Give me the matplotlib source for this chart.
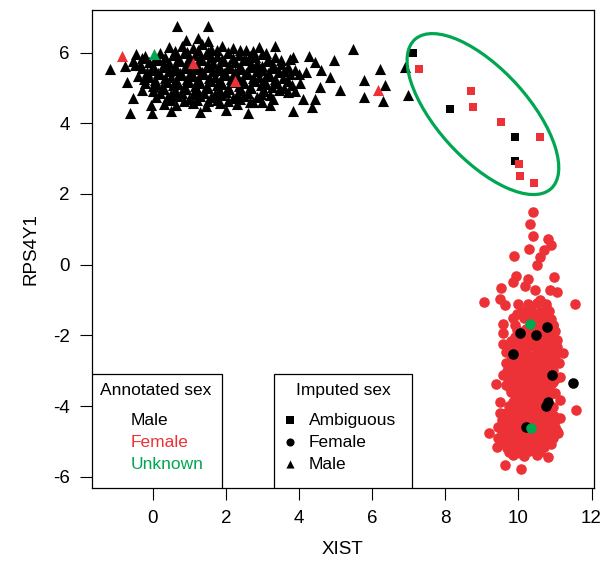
import numpy as np
import matplotlib
matplotlib.use("Agg")
import matplotlib.pyplot as plt
from matplotlib.patches import Ellipse, Rectangle

plt.rcParams['font.family'] = ['Liberation Sans', 'DejaVu Sans']
plt.rcParams['axes.unicode_minus'] = False

RED = '#ed3237'
GREEN = '#00a650'
BLACK = '#000000'

# imputed sex = Male (triangles), annotated male
tri_black_x = [
    0.45, 0.8, 1.1, 1.35, 1.6, 1.9, 2.2, 2.55, 2.9,
    -0.45, -0.2, 0.2, 0.55, 0.85, 1.15, 1.45, 1.75, 2.05, 2.35, 2.65, 3.0, 3.35,
    -0.55, -0.1, 0.15, 0.45, 0.75, 1.05, 1.35, 1.65, 1.95, 2.25, 2.55, 2.85, 3.15, 3.5,
    -0.3, 0.0, 0.3, 0.6, 0.9, 1.2, 1.5, 1.8, 2.1, 2.4, 2.7, 3.0, 3.3, 3.6, 3.9,
    -0.4, -0.1, 0.2, 0.5, 0.8, 1.1, 1.4, 1.7, 2.0, 2.3, 2.6, 2.9, 3.2, 3.55, 4.0,
    -0.2, 0.1, 0.4, 0.7, 1.0, 1.3, 1.6, 1.9, 2.2, 2.5, 2.8, 3.1, 3.4, 3.8,
    -0.3, 0.0, 0.3, 0.6, 0.9, 1.2, 1.5, 1.8, 2.1, 2.4, 2.7, 3.05, 3.45, 3.7,
    0.1, 0.4, 0.7, 1.0, 1.3, 1.6, 1.9, 2.2, 2.5, 2.85, 3.3,
    0.3, 0.65, 1.1, 1.45, 1.85, 2.3, 2.75, 3.2,
    0.5, 1.3, 2.0, 2.6,
    0.6, 0.95, 1.25, 1.5, 1.75, 2.05, 2.4, 2.75, 3.1,
    -0.3, 0.05, 0.35, 0.7, 1.0, 1.3, 1.6, 1.9, 2.2, 2.5, 2.8, 3.15, 3.5,
    -0.35, 0.0, 0.3, 0.6, 0.9, 1.2, 1.5, 1.8, 2.1, 2.4, 2.7, 3.0, 3.3, 3.7,
    -0.15, 0.15, 0.45, 0.75, 1.05, 1.35, 1.65, 1.95, 2.25, 2.55, 2.85, 3.15, 3.45, 3.75,
    -0.25, 0.05, 0.35, 0.65, 0.95, 1.25, 1.55, 1.85, 2.15, 2.45, 2.75, 3.05, 3.35, 3.7,
    0.0, 0.25, 0.55, 0.85, 1.15, 1.45, 1.75, 2.05, 2.35, 2.65, 2.95, 3.25, 3.6,
    0.2, 0.5, 0.8, 1.1, 1.4, 1.7, 2.0, 2.3, 2.6, 2.95, 3.2,
    0.5, 0.85, 1.2, 1.5, 1.75, 2.05, 2.4, 2.65, 3.0,
    3.34, 3.75, 3.84, 4.03, 4.28, 4.44, 4.58, 4.85, 4.97, 5.12, 4.35, 3.84, 4.44,
    4.2, 4.6, 3.9, 4.1,
    5.49, 6.22, 5.78, 6.35, 5.78, 6.29, 6.90, 6.99,
    -1.17, -0.76, -0.48, -0.71, -0.55, -0.62, -0.05, -0.03, 0.66, 1.52,
    0.9, 1.25, 1.5,
]
tri_black_y = [
    6.15, 6.2, 6.12, 6.25, 6.1, 6.18, 6.13, 6.08, 6.16,
    5.95, 5.9, 5.98, 5.93, 6.0, 5.92, 5.97, 5.9, 5.99, 5.94, 5.91, 5.96, 5.88,
    5.75, 5.72, 5.78, 5.7, 5.77, 5.74, 5.8, 5.71, 5.76, 5.73, 5.79, 5.7, 5.75, 5.68,
    5.55, 5.52, 5.58, 5.5, 5.57, 5.54, 5.6, 5.51, 5.56, 5.53, 5.59, 5.5, 5.55, 5.48, 5.52,
    5.35, 5.32, 5.38, 5.3, 5.37, 5.34, 5.4, 5.31, 5.36, 5.33, 5.39, 5.3, 5.35, 5.28, 5.4,
    5.15, 5.12, 5.18, 5.1, 5.17, 5.14, 5.2, 5.11, 5.16, 5.13, 5.19, 5.1, 5.15, 5.08,
    4.95, 4.92, 4.98, 4.9, 4.97, 4.94, 5.0, 4.91, 4.96, 4.93, 4.99, 4.9, 4.95, 4.88,
    4.75, 4.72, 4.78, 4.7, 4.77, 4.74, 4.8, 4.71, 4.76, 4.73, 4.7,
    4.55, 4.52, 4.58, 4.5, 4.57, 4.54, 4.6, 4.51,
    4.35, 4.32, 4.38, 4.3,
    6.05, 6.02, 6.08, 6.03, 6.06, 6.01, 6.07, 6.04, 6.0,
    5.85, 5.83, 5.87, 5.82, 5.86, 5.84, 5.88, 5.81, 5.85, 5.83, 5.87, 5.82, 5.8,
    5.65, 5.63, 5.67, 5.62, 5.66, 5.64, 5.68, 5.61, 5.65, 5.63, 5.67, 5.62, 5.66, 5.6,
    5.45, 5.43, 5.47, 5.42, 5.46, 5.44, 5.48, 5.41, 5.45, 5.43, 5.47, 5.42, 5.46, 5.4,
    5.25, 5.23, 5.27, 5.22, 5.26, 5.24, 5.28, 5.21, 5.25, 5.23, 5.27, 5.22, 5.26, 5.2,
    5.05, 5.03, 5.07, 5.02, 5.06, 5.04, 5.08, 5.01, 5.05, 5.03, 5.07, 5.02, 5.0,
    4.85, 4.83, 4.87, 4.82, 4.86, 4.84, 4.88, 4.81, 4.85, 4.83, 4.8,
    4.65, 4.63, 4.67, 4.62, 4.66, 4.64, 4.68, 4.61, 4.6,
    6.19, 5.81, 5.88, 5.13, 5.90, 5.74, 5.03, 5.32, 5.79, 4.94, 4.47, 4.36, 4.68,
    5.45, 5.5, 4.9, 4.7,
    6.09, 5.53, 5.22, 5.08, 4.74, 4.64, 5.58, 4.80,
    5.53, 5.62, 5.65, 5.18, 4.71, 4.29, 4.52, 4.28, 6.75, 6.75,
    6.35, 6.4, 6.33,
]
tri_red_x = [-0.83, 1.11, 2.25, 6.16]
tri_red_y = [5.91, 5.70, 5.20, 4.94]
tri_green_x = [0.04]
tri_green_y = [5.96]

# imputed sex = Ambiguous (squares)
sq_black_x = [7.13, 8.14, 9.91, 9.90]
sq_black_y = [5.98, 4.40, 3.60, 2.93]
sq_red_x = [7.29, 8.70, 8.76, 9.52, 10.60, 10.01, 10.05, 10.42]
sq_red_y = [5.54, 4.90, 4.46, 4.04, 3.60, 2.85, 2.50, 2.30]

# imputed sex = Female (circles)
circ_red_x = [
    10.39, 10.32, 10.39, 10.82, 10.88, 10.29, 9.88, 10.70, 10.59, 10.50, 9.93, 10.27,
    10.97, 9.86, 9.52, 10.18, 10.45, 10.86, 11.06, 9.06, 9.50, 9.63, 11.55, 10.59, 10.75,
    9.59, 9.59, 9.57, 9.66, 9.65, 9.57, 9.39, 9.50, 9.50, 9.20, 9.41, 9.63, 10.06, 10.82,
    11.57, 11.23, 11.14, 11.14, 11.14, 11.08, 10.95, 11.05,
    10.1, 10.35, 10.6, 10.85,
    9.85, 10.15, 10.4, 10.65, 10.9,
    9.9, 10.5, 10.7, 10.95,
    10.3, 10.6, 10.9,
    9.8, 10.05, 10.3, 10.55, 10.8, 11.0,
    9.75, 10.0, 10.25, 10.5, 10.75, 11.05,
    9.85, 10.1, 10.35, 10.6, 10.85,
    9.9, 10.15, 10.4, 10.65, 10.9, 11.1,
    9.7, 9.95, 10.2, 10.45, 10.7, 10.95,
    9.8, 10.05, 10.3, 10.55, 10.8, 11.0,
    9.65, 9.9, 10.15, 10.4, 10.65, 10.9,
    9.8, 10.05, 10.3, 10.55, 10.8, 11.0,
    10.0, 10.25, 10.5, 10.7,
    9.75, 10.0, 10.25, 10.5, 10.95,
    9.65, 9.9, 10.15, 10.4, 10.65, 10.9,
    9.55, 9.8, 10.05, 10.3, 10.55, 10.8, 11.0,
    9.45, 9.7, 9.95, 10.2, 10.5, 10.75, 11.0,
    9.6, 9.85, 10.1, 10.35, 10.6, 10.85,
    9.55, 9.8, 10.05, 10.3, 10.55, 10.8,
    9.7, 9.95, 10.2, 10.45, 10.7,
    9.85, 10.15, 10.5,
    10.0, 10.25, 10.5, 10.75,
    9.95, 10.25, 10.5, 10.78,
    9.95, 10.2, 10.45, 10.75, 11.0,
    9.9, 10.18, 10.42, 10.68, 10.92,
    9.9, 10.12, 10.38, 10.62, 10.88,
    9.95, 10.22, 10.48, 10.72, 10.98,
    9.8, 10.02, 10.28, 10.52, 10.78, 11.0,
    9.82, 10.08, 10.32, 10.58, 10.82,
    9.9, 10.12, 10.38, 10.62, 10.88,
    9.75, 10.0, 10.22, 10.48, 10.72, 10.95,
    9.78, 10.02, 10.28, 10.52, 10.78,
    9.9, 10.12, 10.38, 10.62, 10.88,
    9.85, 10.12, 10.38, 10.62,
    9.82, 10.08, 10.32, 10.58, 10.82,
    9.72, 10.0, 10.25, 10.5, 10.75, 10.98,
    9.65, 9.92, 10.18, 10.42, 10.68, 10.92,
    9.55, 9.8, 10.05, 10.3, 10.55, 10.8, 11.05,
    9.45, 9.7, 9.95, 10.22, 10.48, 10.72, 10.95,
    9.65, 9.9, 10.15, 10.4, 10.65, 10.9,
    9.75, 10.05, 10.3, 10.6,
]
circ_red_y = [
    1.50, 1.14, 0.82, 0.72, 0.56, 0.43, 0.25, 0.41, 0.22, 0.00, -0.32, -0.42,
    -0.36, -0.48, -0.67, -0.60, -0.72, -0.72, -0.77, -1.07, -0.98, -1.14, -1.11, -1.00, -1.19,
    -1.68, -1.93, -2.25, -2.46, -2.79, -3.12, -3.38, -3.90, -4.21, -4.76, -5.15, -5.67, -5.79, -5.43,
    -4.11, -2.51, -3.17, -3.83, -4.34, -4.77, -1.71, -2.13,
    -1.3, -1.27, -1.33, -1.3,
    -1.5, -1.52, -1.48, -1.5, -1.53,
    -1.7, -1.72, -1.68, -1.7,
    -1.95, -1.93, -1.97,
    -2.15, -2.13, -2.17, -2.15, -2.12, -2.18,
    -2.35, -2.38, -2.33, -2.35, -2.37, -2.32,
    -2.6, -2.58, -2.62, -2.6, -2.57,
    -2.8, -2.83, -2.78, -2.8, -2.82, -2.77,
    -3.0, -3.02, -2.98, -3.0, -3.03, -2.97,
    -3.2, -3.18, -3.22, -3.2, -3.17, -3.23,
    -3.4, -3.42, -3.38, -3.4, -3.43, -3.37,
    -3.6, -3.58, -3.62, -3.6, -3.57, -3.63,
    -3.8, -3.82, -3.78, -3.8,
    -4.0, -4.02, -3.98, -4.0, -4.03,
    -4.2, -4.18, -4.22, -4.2, -4.17, -4.23,
    -4.4, -4.42, -4.38, -4.4, -4.43, -4.37, -4.4,
    -4.6, -4.58, -4.62, -4.6, -4.57, -4.63, -4.6,
    -4.8, -4.82, -4.78, -4.8, -4.83, -4.77,
    -5.0, -5.02, -4.98, -5.0, -5.03, -4.97,
    -5.2, -5.18, -5.22, -5.2, -5.17,
    -5.4, -5.42, -5.38,
    -1.1, -1.12, -1.08, -1.1,
    -1.4, -1.38, -1.42, -1.4,
    -1.85, -1.83, -1.87, -1.85, -1.88,
    -2.05, -2.07, -2.03, -2.05, -2.06,
    -2.25, -2.23, -2.27, -2.25, -2.22,
    -2.5, -2.48, -2.52, -2.5, -2.47,
    -2.7, -2.72, -2.68, -2.7, -2.73, -2.67,
    -2.9, -2.88, -2.92, -2.9, -2.87,
    -3.1, -3.12, -3.08, -3.1, -3.13,
    -3.3, -3.28, -3.32, -3.3, -3.27, -3.33,
    -3.5, -3.52, -3.48, -3.5, -3.53,
    -3.7, -3.68, -3.72, -3.7, -3.67,
    -3.9, -3.92, -3.88, -3.9,
    -4.1, -4.08, -4.12, -4.1, -4.07,
    -4.3, -4.32, -4.28, -4.3, -4.33, -4.27,
    -4.5, -4.48, -4.52, -4.5, -4.47, -4.53,
    -4.7, -4.72, -4.68, -4.7, -4.73, -4.67, -4.7,
    -4.9, -4.88, -4.92, -4.9, -4.87, -4.93, -4.9,
    -5.1, -5.12, -5.08, -5.1, -5.13, -5.07,
    -5.3, -5.32, -5.28, -5.3,
]
circ_black_x = [10.05, 10.48, 10.78, 9.86, 10.92, 10.76, 10.82, 10.2, 11.48]
circ_black_y = [-1.93, -1.98, -1.76, -2.52, -3.12, -3.99, -3.88, -4.58, -3.34]
circ_green_x = [10.32, 10.34]
circ_green_y = [-1.68, -4.61]

xticks = [0, 2, 4, 6, 8, 10, 12]
yticks = [-6, -4, -2, 0, 2, 4, 6]

fig = plt.figure(figsize=(6.03, 5.64), dpi=100)
ax = fig.add_axes([91.5 / 603, 76 / 564, 502.5 / 603, 478 / 564])

tri_s, circ_s, sq_s = 64, 58, 32
ax.scatter(tri_black_x, tri_black_y, marker='^', s=tri_s, c=BLACK, linewidths=0)
ax.scatter(tri_red_x, tri_red_y, marker='^', s=tri_s, c=RED, linewidths=0)
ax.scatter(tri_green_x, tri_green_y, marker='^', s=tri_s, c=GREEN, linewidths=0)
ax.scatter(sq_black_x, sq_black_y, marker='s', s=sq_s, c=BLACK, linewidths=0)
ax.scatter(sq_red_x, sq_red_y, marker='s', s=sq_s, c=RED, linewidths=0)
ax.scatter(circ_red_x, circ_red_y, marker='o', s=circ_s, c=RED, linewidths=0)
ax.scatter(circ_black_x, circ_black_y, marker='o', s=circ_s, c=BLACK, linewidths=0)
ax.scatter(circ_green_x, circ_green_y, marker='o', s=circ_s, c=GREEN, linewidths=0)

ax.add_patch(Ellipse((9.03, 4.26), 5.63, 2.50, angle=-49, fill=False,
                     edgecolor=GREEN, linewidth=2.3, zorder=5))

ax.set_xlim(-1.673, 12.067)
ax.set_ylim(-6.32, 7.205)
ax.set_xticks(xticks)
ax.set_yticks(yticks)
ax.tick_params(length=8.6, width=0.8, labelsize=13.5, pad=7)
ax.set_xlabel('XIST', fontsize=13.5, labelpad=10)
ax.set_ylabel('RPS4Y1', fontsize=13.5, labelpad=10)
for sp in ax.spines.values():
    sp.set_linewidth(0.9)

# legend boxes
fs = 12.5
ax.add_patch(Rectangle((0, 0), 0.259, 0.238, transform=ax.transAxes,
                       fill=True, facecolor='white', edgecolor='black', lw=0.9, zorder=6))
ax.text(0.128, 0.2036, 'Annotated sex', transform=ax.transAxes, ha='center', va='center',
        fontsize=fs, zorder=7)
for lab, col, yy in [('Male', BLACK, 0.142), ('Female', RED, 0.096), ('Unknown', GREEN, 0.050)]:
    ax.text(0.078, yy, lab, color=col, transform=ax.transAxes, ha='left', va='center',
            fontsize=fs, zorder=7)

ax.add_patch(Rectangle((0.364, 0), 0.273, 0.238, transform=ax.transAxes,
                       fill=True, facecolor='white', edgecolor='black', lw=0.9, zorder=6))
ax.text(0.501, 0.2036, 'Imputed sex', transform=ax.transAxes, ha='center', va='center',
        fontsize=fs, zorder=7)
for lab, mk, yy in [('Ambiguous', 's', 0.142), ('Female', 'o', 0.096), ('Male', '^', 0.050)]:
    ax.scatter([0.396], [yy], marker=mk, s=34, c=BLACK, linewidths=0,
               transform=ax.transAxes, zorder=7, clip_on=False)
    ax.text(0.433, yy, lab, transform=ax.transAxes, ha='left', va='center',
            fontsize=fs, zorder=7)

fig.savefig('out.png', dpi=100)
